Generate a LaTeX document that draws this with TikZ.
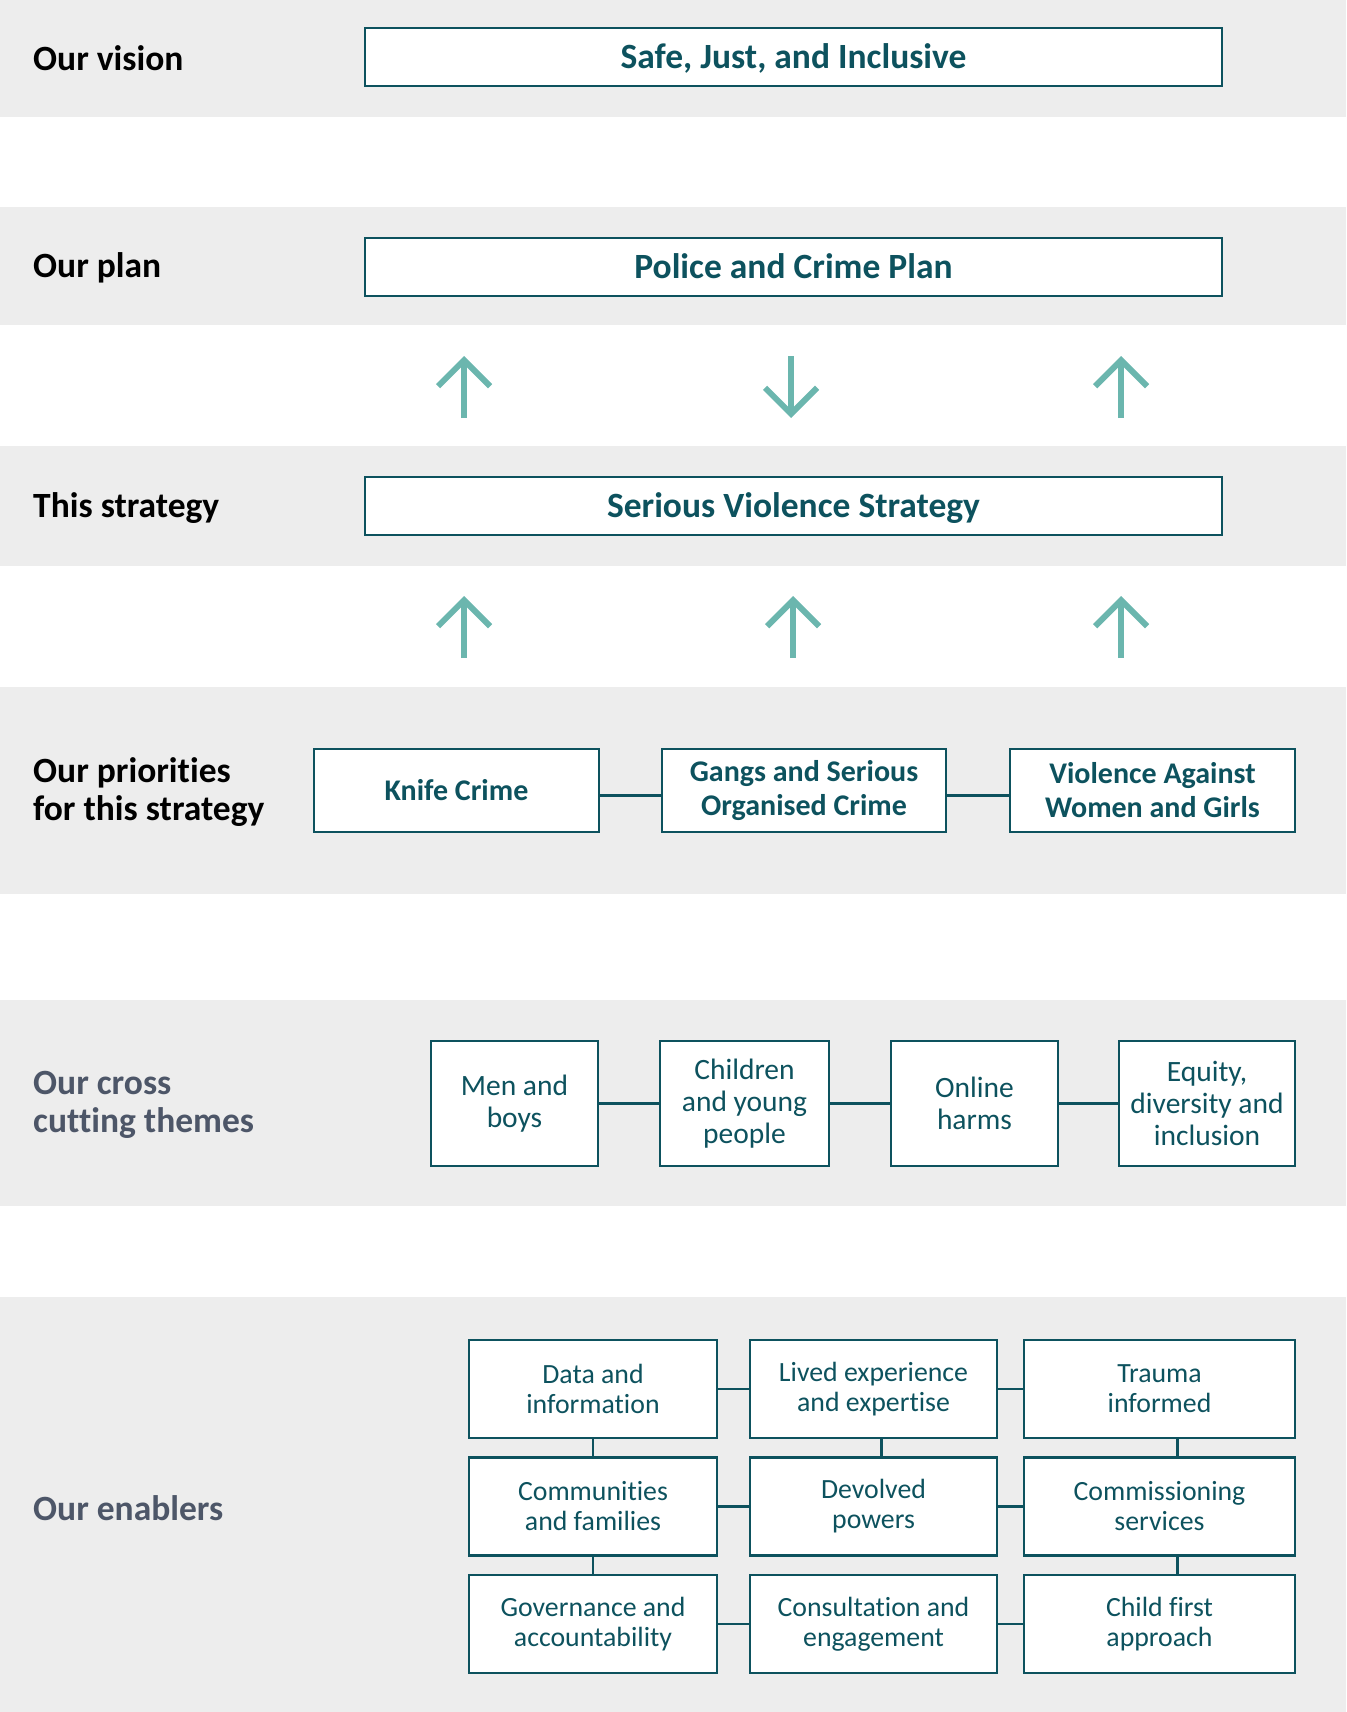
\documentclass[tikz,border=0pt]{standalone}
\usepackage{fontspec}
\setmainfont{Carlito}[Ligatures=NoCommon]
\usepackage{xcolor}
\usepackage{tikz}
\usetikzlibrary{arrows.meta}
\definecolor{bandgrey}{HTML}{EDEDED}
\definecolor{boxteal}{HTML}{0D525E}
\definecolor{arrowteal}{HTML}{6BB6AE}
\definecolor{slate}{HTML}{4D5668}

\begin{document}
\begin{tikzpicture}[x=1pt,y=-1pt]
\tikzstyle{heading} = [anchor=west, align=left, inner sep=0pt, font=\fontsize{35.5}{38}\selectfont\bfseries]
\tikzstyle{mainbox} = [draw=boxteal, line width=2.5pt, fill=white, text=boxteal, minimum width=857pt, minimum height=58pt, text depth=2pt, font=\fontsize{35.5}{38}\selectfont\bfseries]
\tikzstyle{prio} = [draw=boxteal, line width=2.5pt, fill=white, text=boxteal, align=center, minimum height=83pt, font=\fontsize{30}{34}\selectfont\bfseries]
\tikzstyle{theme} = [draw=boxteal, line width=2.5pt, fill=white, text=boxteal, align=center, minimum height=125pt, font=\fontsize{29.5}{32}\selectfont]
\tikzstyle{enabler} = [draw=boxteal, line width=2.5pt, fill=white, text=boxteal, align=center, minimum height=98pt, font=\fontsize{27.8}{30}\selectfont]
\tikzstyle{link} = [draw=boxteal, line width=2.5pt]
\tikzstyle{flow} = [draw=arrowteal, line width=6pt, -{Straight Barb[length=26pt, width=52pt]}]
\useasboundingbox (0,0) rectangle (1346,1712);
\fill [bandgrey] (0,0) rectangle (1346,117);
\fill [bandgrey] (0,207) rectangle (1346,325);
\fill [bandgrey] (0,446) rectangle (1346,566);
\fill [bandgrey] (0,687) rectangle (1346,894);
\fill [bandgrey] (0,1000) rectangle (1346,1206);
\fill [bandgrey] (0,1297) rectangle (1346,1712);
\node [heading] (hvision) at (33,58) {Our vision};
\node [heading] (hplan) at (33,268) {Our plan};
\node [heading] (hstrat) at (33,508) {This strategy};
\node [heading] (hprio) at (33,792) {Our priorities\\for this strategy};
\node [heading, text=slate] (htheme) at (33,1105) {Our cross\\cutting themes};
\node [heading, text=slate] (hena) at (33,1508) {Our enablers};
\node [mainbox] (vision) at (793.5,57) {Safe, Just, and Inclusive};
\node [mainbox] (plan) at (793.5,267) {Police and Crime Plan};
\node [mainbox] (strat) at (793.5,506) {Serious Violence Strategy};
\coordinate (a1s) at (464,418); \coordinate (a1e) at (464,356);
\coordinate (a2s) at (791,356); \coordinate (a2e) at (791,418);
\coordinate (a3s) at (1121,418); \coordinate (a3e) at (1121,356);
\coordinate (b1s) at (464,658); \coordinate (b1e) at (464,596);
\coordinate (b2s) at (793,658); \coordinate (b2e) at (793,596);
\coordinate (b3s) at (1121,658); \coordinate (b3e) at (1121,596);
\draw [flow] (a1s) -- (a1e);
\draw [flow] (a2s) -- (a2e);
\draw [flow] (a3s) -- (a3e);
\draw [flow] (b1s) -- (b1e);
\draw [flow] (b2s) -- (b2e);
\draw [flow] (b3s) -- (b3e);
\node [prio, minimum width=285pt] (knife) at (456.5,790.5) {Knife Crime};
\node [prio, minimum width=284pt] (gangs) at (804,790.5) {Gangs and Serious\\Organised Crime};
\node [prio, minimum width=285pt] (vawg) at (1152.5,790.5) {Violence Against\\Women and Girls};
\draw [link] ([yshift=-5pt]knife.east) -- ([yshift=-5pt]gangs.west);
\draw [link] ([yshift=-5pt]gangs.east) -- ([yshift=-5pt]vawg.west);
\node [theme, minimum width=167pt] (men) at (514.5,1103.5) {Men and\\boys};
\node [theme, minimum width=169pt] (young) at (744.5,1103.5) {Children\\and young\\people};
\node [theme, minimum width=167pt] (online) at (974.5,1103.5) {Online\\harms};
\node [theme, minimum width=176pt] (equity) at (1207,1103.5) {Equity,\\diversity and\\inclusion};
\draw [link] (men) -- (young);
\draw [link] (young) -- (online);
\draw [link] (online) -- (equity);
\node [enabler, minimum width=248pt] (data) at (593,1389) {Data and\\information};
\node [enabler, minimum width=247pt] (lived) at (873.5,1389) {Lived experience\\and expertise};
\node [enabler, minimum width=271pt] (trauma) at (1159.5,1389) {Trauma\\informed};
\node [enabler, minimum width=248pt] (comm) at (593,1506.5) {Communities\\and families};
\node [enabler, minimum width=247pt] (devolved) at (873.5,1506.5) {Devolved\\powers};
\node [enabler, minimum width=271pt] (services) at (1159.5,1506.5) {Commissioning\\services};
\node [enabler, minimum width=248pt] (gov) at (593,1624) {Governance and\\accountability};
\node [enabler, minimum width=247pt] (consult) at (873.5,1624) {Consultation and\\engagement};
\node [enabler, minimum width=271pt] (child) at (1159.5,1624) {Child first\\approach};
\draw [link] (data) -- (lived);
\draw [link] (lived) -- (trauma);
\draw [link] (comm) -- (devolved);
\draw [link] (devolved) -- (services);
\draw [link] (gov) -- (consult);
\draw [link] (consult) -- (child);
\draw [link] (data) -- (comm);
\draw [link] (comm) -- (gov);
\draw [link] ([xshift=8pt]lived.south) -- ([xshift=8pt]devolved.north);
\draw [link] ([xshift=18pt]trauma.south) -- ([xshift=18pt]services.north);
\draw [link] ([xshift=18pt]services.south) -- ([xshift=18pt]child.north);
\end{tikzpicture}
\end{document}
